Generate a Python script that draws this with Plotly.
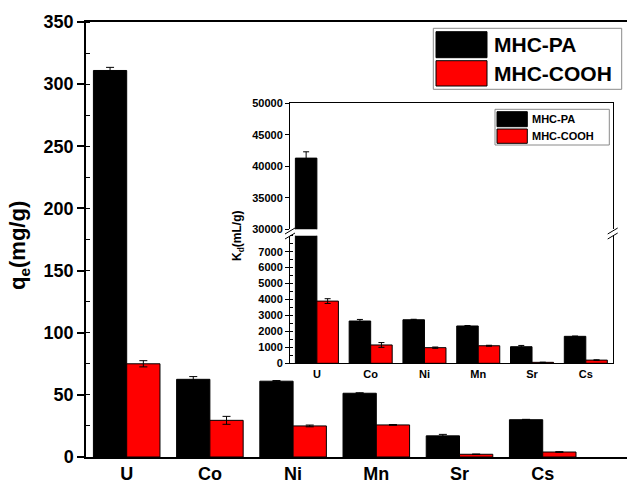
import plotly.graph_objects as go

# Metal ions tested
ions = ["U", "Co", "Ni", "Mn", "Sr", "Cs"]

# Adsorption capacity q_e (mg/g)
qe_pa = [311, 62.5, 61, 51.3, 17, 30]
qe_pa_err = [2.5, 2.2, 0.5, 0.4, 1.2, 0.3]
qe_cooh = [75, 29.5, 25, 25.8, 2.2, 4]
qe_cooh_err = [2.5, 3.2, 0.7, 0.3, 0.2, 0.3]

# Distribution coefficient K_d (mL/g)
kd_pa = [41300, 2650, 2730, 2340, 1040, 1690]
kd_pa_err = [1000, 100, 30, 30, 80, 20]
kd_cooh = [3900, 1150, 980, 1100, 60, 200]
kd_cooh_err = [150, 150, 40, 30, 10, 20]

series_names = ["MHC-PA", "MHC-COOH"]
colors = ["#000000", "#FF0000"]

W, H = 627, 484
FONT = "Liberation Sans, Arial, sans-serif"


def px(x):
    return x / W


def py(y):
    return 1 - y / H


fig = go.Figure()


def add_bars(values, errs, color, name, xa, ya, ew=3):
    fig.add_trace(go.Bar(
        x=ions, y=values, name=name, xaxis=xa, yaxis=ya,
        marker=dict(color=color, line=dict(color="black", width=1)),
        error_y=dict(type="data", array=errs, visible=True,
                     color="black", thickness=1, width=ew),
        showlegend=False,
    ))


# main chart
add_bars(qe_pa, qe_pa_err, colors[0], series_names[0], "x", "y", 4)
add_bars(qe_cooh, qe_cooh_err, colors[1], series_names[1], "x", "y", 4)
# inset, lower segment
add_bars(kd_pa, kd_pa_err, colors[0], series_names[0], "x2", "y3")
add_bars(kd_cooh, kd_cooh_err, colors[1], series_names[1], "x2", "y3")
# inset, upper segment
add_bars(kd_pa, kd_pa_err, colors[0], series_names[0], "x3", "y4")
add_bars(kd_cooh, kd_cooh_err, colors[1], series_names[1], "x3", "y4")

bold = dict(family=FONT, color="black", weight="bold")

main_x_dom = [px(86), 1.0]
main_y_dom = [py(457), py(22)]
in_x_dom = [px(290), px(612.7)]
in_lo_dom = [py(363.3), py(235.7)]
in_hi_dom = [py(229.3), py(103.3)]

fig.update_layout(
    width=W, height=H,
    margin=dict(l=0, r=0, t=0, b=0, autoexpand=False),
    paper_bgcolor="white", plot_bgcolor="rgba(0,0,0,0)",
    barmode="group", bargap=0.2, bargroupgap=0,
    font=dict(family=FONT, color="black"),
    xaxis=dict(
        domain=main_x_dom, anchor="y", type="category", automargin=False,
        range=[-0.489, 6.013],
        showline=True, linecolor="black", linewidth=1.5, mirror=True,
        ticks="", ticklabelstandoff=0, tickfont=dict(size=18, **bold),
        showgrid=False, zeroline=False,
    ),
    yaxis=dict(
        domain=main_y_dom, anchor="x", range=[0, 350], dtick=50, automargin=False,
        showline=True, linecolor="black", linewidth=1.5,
        ticks="outside", ticklen=7, tickwidth=1.5, tickcolor="black",
        minor=dict(dtick=25, ticks="inside", ticklen=4, tickwidth=1, tickcolor="black"),
        tickfont=dict(size=18, **bold),
        showgrid=False, zeroline=False,
    ),
    xaxis2=dict(
        domain=in_x_dom, anchor="y3", type="category", range=[-0.5, 5.5], automargin=False,
        showline=True, linecolor="black", linewidth=1,
        ticks="", ticklabelstandoff=0, tickfont=dict(size=11, **bold),
        showgrid=False, zeroline=False,
    ),
    xaxis3=dict(
        domain=in_x_dom, anchor="y4", type="category", range=[-0.5, 5.5], automargin=False,
        side="top", showline=True, linecolor="black", linewidth=1,
        ticks="", showticklabels=False, showgrid=False, zeroline=False,
    ),
    yaxis3=dict(
        domain=in_lo_dom, anchor="x2", range=[0, 8000], automargin=False,
        tickvals=list(range(0, 8000, 1000)), tickformat="d",
        showline=True, linecolor="black", linewidth=1, mirror=True,
        ticks="outside", ticklen=4, tickwidth=1, tickcolor="black",
        minor=dict(dtick=500, ticks="inside", ticklen=3, tickwidth=1, tickcolor="black"),
        tickfont=dict(size=11, **bold),
        showgrid=False, zeroline=False,
    ),
    yaxis4=dict(
        domain=in_hi_dom, anchor="x3", range=[30000, 50000], dtick=5000, automargin=False,
        tickformat="d",
        showline=True, linecolor="black", linewidth=1, mirror=True,
        ticks="outside", ticklen=4, tickwidth=1, tickcolor="black",
        tickfont=dict(size=11, **bold),
        showgrid=False, zeroline=False,
    ),
)

shapes = []
annotations = []

# inset background
shapes.append(dict(type="rect", xref="paper", yref="paper", layer="below",
                   x0=px(290), x1=px(612.7), y0=py(363.3), y1=py(103.3),
                   fillcolor="white", line=dict(width=0)))

# axis break marks
for xc in (290, 612.7):
    for dy in (0, 5):
        shapes.append(dict(type="line", xref="paper", yref="paper",
                           x0=px(xc - 5), y0=py(234 + dy),
                           x1=px(xc + 5), y1=py(228 + dy),
                           line=dict(color="black", width=1)))


def legend(box, sw_x, rows, text_x, size):
    x0, y0, x1, y1 = box
    shapes.append(dict(type="rect", xref="paper", yref="paper",
                       x0=px(x0), x1=px(x1), y0=py(y1), y1=py(y0),
                       fillcolor="white", line=dict(color="#8a8a8a", width=1)))
    for (ry0, ry1), name, col in zip(rows, series_names, colors):
        shapes.append(dict(type="rect", xref="paper", yref="paper",
                           x0=px(sw_x[0]), x1=px(sw_x[1]), y0=py(ry1), y1=py(ry0),
                           fillcolor=col, line=dict(color="black", width=1)))
        annotations.append(dict(xref="paper", yref="paper", x=px(text_x),
                                y=py((ry0 + ry1) / 2), text=name, showarrow=False,
                                xanchor="left", yanchor="middle",
                                font=dict(size=size, **bold)))


legend((433.3, 28.3, 621.7, 89.3), (436, 487), [(31.7, 57.7), (60.7, 86)], 492, 21)
legend((495, 109.3, 609.3, 145), (497, 527.3), [(111.7, 126.7), (129, 143.3)], 530, 11)

# axis titles
annotations.append(dict(xref="paper", yref="paper", x=px(19), y=py(246),
                        text="q<sub>e</sub>(mg/g)", textangle=-90, showarrow=False,
                        xanchor="center", yanchor="middle",
                        font=dict(size=22, **bold)))
annotations.append(dict(xref="paper", yref="paper", x=px(238), y=py(236),
                        text="K<sub>d</sub>(mL/g)", textangle=-90, showarrow=False,
                        xanchor="center", yanchor="middle",
                        font=dict(size=12, **bold)))

fig.update_layout(shapes=shapes, annotations=annotations)
fig.write_html("out.html")
